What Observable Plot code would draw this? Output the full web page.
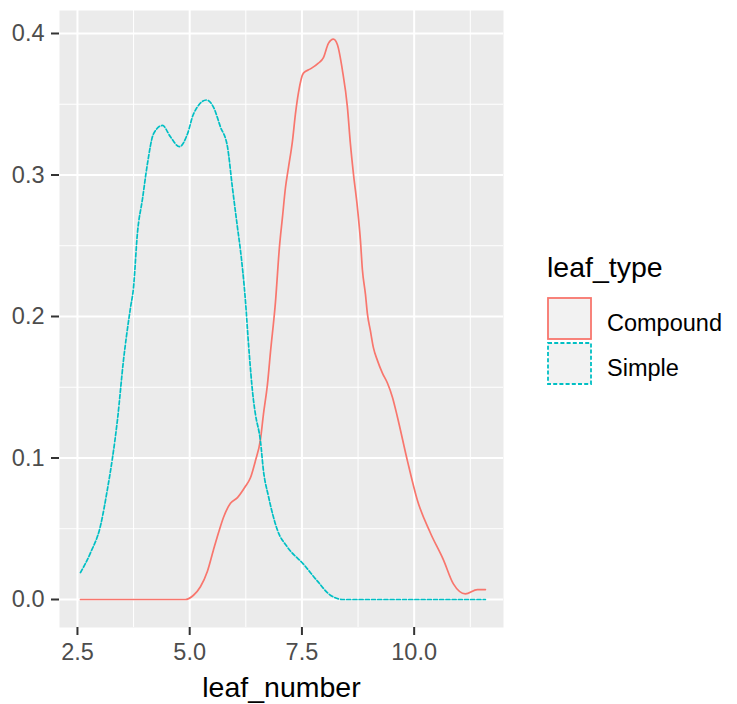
<!DOCTYPE html>
<html>
<head>
<meta charset="utf-8">
<script src="https://cdn.jsdelivr.net/npm/d3@7"></script>
<script src="https://cdn.jsdelivr.net/npm/@observablehq/plot@0.6"></script>
<style>
  html, body { margin: 0; padding: 0; background: #fff; }
  #wrap { position: relative; width: 737px; height: 704px; font-family: "Liberation Sans", Arial, sans-serif; }
  #legend { position: absolute; left: 547px; top: 250px; }
</style>
</head>
<body>
<div id="wrap"></div>
<script>
// Density curves (leaf_number vs density)
const compoundX = [2.567, 4.905, 5.084, 5.239, 5.395, 5.529, 5.640, 5.752, 5.908, 6.064, 6.242, 6.353, 6.464, 6.576, 6.643, 6.732, 6.800, 6.910, 6.999, 7.066, 7.133, 7.199, 7.289, 7.355, 7.422, 7.533, 7.689, 7.867, 7.979, 8.090, 8.201, 8.291, 8.402, 8.513, 8.580, 8.647, 8.736, 8.803, 8.847, 8.914, 8.958, 9.025, 9.092, 9.181, 9.293, 9.404, 9.516, 9.627, 9.850, 10.073, 10.362, 10.652, 10.874, 11.141, 11.408, 11.587];
const compoundY = [0, 0, 0.003, 0.009, 0.020, 0.035, 0.047, 0.058, 0.068, 0.072, 0.080, 0.086, 0.098, 0.113, 0.131, 0.152, 0.175, 0.210, 0.249, 0.270, 0.291, 0.305, 0.324, 0.343, 0.358, 0.372, 0.375, 0.379, 0.383, 0.393, 0.396, 0.392, 0.374, 0.348, 0.322, 0.301, 0.277, 0.254, 0.233, 0.216, 0.202, 0.190, 0.178, 0.169, 0.160, 0.153, 0.143, 0.129, 0.098, 0.070, 0.047, 0.028, 0.011, 0.004, 0.007, 0.007];
const simpleX = [2.567, 2.790, 3.012, 3.168, 3.280, 3.391, 3.525, 3.680, 3.747, 3.836, 3.948, 4.059, 4.193, 4.393, 4.571, 4.772, 4.950, 5.084, 5.373, 5.529, 5.685, 5.841, 5.952, 6.064, 6.130, 6.242, 6.309, 6.420, 6.464, 6.576, 6.643, 6.754, 6.955, 7.177, 7.533, 7.845, 8.135, 8.424, 11.587];
const simpleY = [0.019, 0.033, 0.052, 0.078, 0.100, 0.127, 0.169, 0.206, 0.220, 0.259, 0.283, 0.308, 0.329, 0.335, 0.327, 0.320, 0.329, 0.343, 0.353, 0.348, 0.334, 0.320, 0.291, 0.263, 0.247, 0.211, 0.181, 0.141, 0.131, 0.112, 0.091, 0.073, 0.049, 0.037, 0.025, 0.013, 0.003, 0, 0];

const xTicks = [2.5, 5.0, 7.5, 10.0];
const xMinor = [3.75, 6.25, 8.75, 11.25];
const yTicks = [0, 0.1, 0.2, 0.3, 0.4];
const yMinor = [0.05, 0.15, 0.25, 0.35];
const types = ["Compound", "Simple"];
const colors = ["#F8766D", "#00BFC4"];
const xTitle = "leaf_number";
const legendTitle = "leaf_type";

const compound = compoundX.map((x, i) => ({x, y: compoundY[i]}));
const simple = simpleX.map((x, i) => ({x, y: simpleY[i]}));

const chart = Plot.plot({
  width: 737,
  height: 704,
  marginLeft: 59,
  marginRight: 234,
  marginTop: 10,
  marginBottom: 77,
  style: {fontFamily: "Liberation Sans, Arial, sans-serif", background: "#ffffff"},
  x: {domain: [2.1, 11.99], label: null},
  y: {domain: [-0.01979, 0.41625], label: null},
  marks: [
    Plot.frame({fill: "#EBEBEB", stroke: null}),
    Plot.gridX(xMinor, {stroke: "#ffffff", strokeOpacity: 1, strokeWidth: 1}),
    Plot.gridY(yMinor, {stroke: "#ffffff", strokeOpacity: 1, strokeWidth: 1}),
    Plot.gridX(xTicks, {stroke: "#ffffff", strokeOpacity: 1, strokeWidth: 2}),
    Plot.gridY(yTicks, {stroke: "#ffffff", strokeOpacity: 1, strokeWidth: 2}),
    Plot.line(compound, {x: "x", y: "y", stroke: colors[0], strokeWidth: 1.7, curve: "monotone-x"}),
    Plot.line(simple, {x: "x", y: "y", stroke: colors[1], strokeWidth: 1.7, strokeDasharray: "4 2.2", curve: "monotone-x"}),
    Plot.axisX(xTicks, {tickSize: 8, tickPadding: 8, tickFormat: d3.format(".1f"), fontSize: 23.5, color: "#4D4D4D", stroke: "#333333", strokeWidth: 2, label: null}),
    Plot.axisY(yTicks, {tickSize: 8, tickPadding: 7, tickFormat: d3.format(".1f"), fontSize: 23.5, color: "#4D4D4D", stroke: "#333333", strokeWidth: 2, label: null}),
    Plot.text([xTitle], {text: d => d, frameAnchor: "bottom", lineAnchor: "middle", dy: 60, fontSize: 28.5, fill: "#000000"})
  ]
});
document.getElementById("wrap").appendChild(chart);

// legend
const legend = document.createElement("div");
legend.id = "legend";
let html = `<svg width="190" height="145" xmlns="http://www.w3.org/2000/svg" style="font-family: Liberation Sans, Arial, sans-serif">`;
html += `<text x="0" y="27" font-size="28.5" fill="#000">${legendTitle}</text>`;
types.forEach((t, i) => {
  const y0 = 47 + i * 45;
  html += `<rect x="1" y="${y0 + 1}" width="43" height="41" fill="#F2F2F2" stroke="${colors[i]}" stroke-width="1.8" ${i === 1 ? 'stroke-dasharray="4 2.2"' : ''}/>`;
  html += `<text x="60" y="${y0 + 34}" font-size="23.5" fill="#000">${t}</text>`;
});
html += `</svg>`;
legend.innerHTML = html;
document.getElementById("wrap").appendChild(legend);
</script>
</body>
</html>
